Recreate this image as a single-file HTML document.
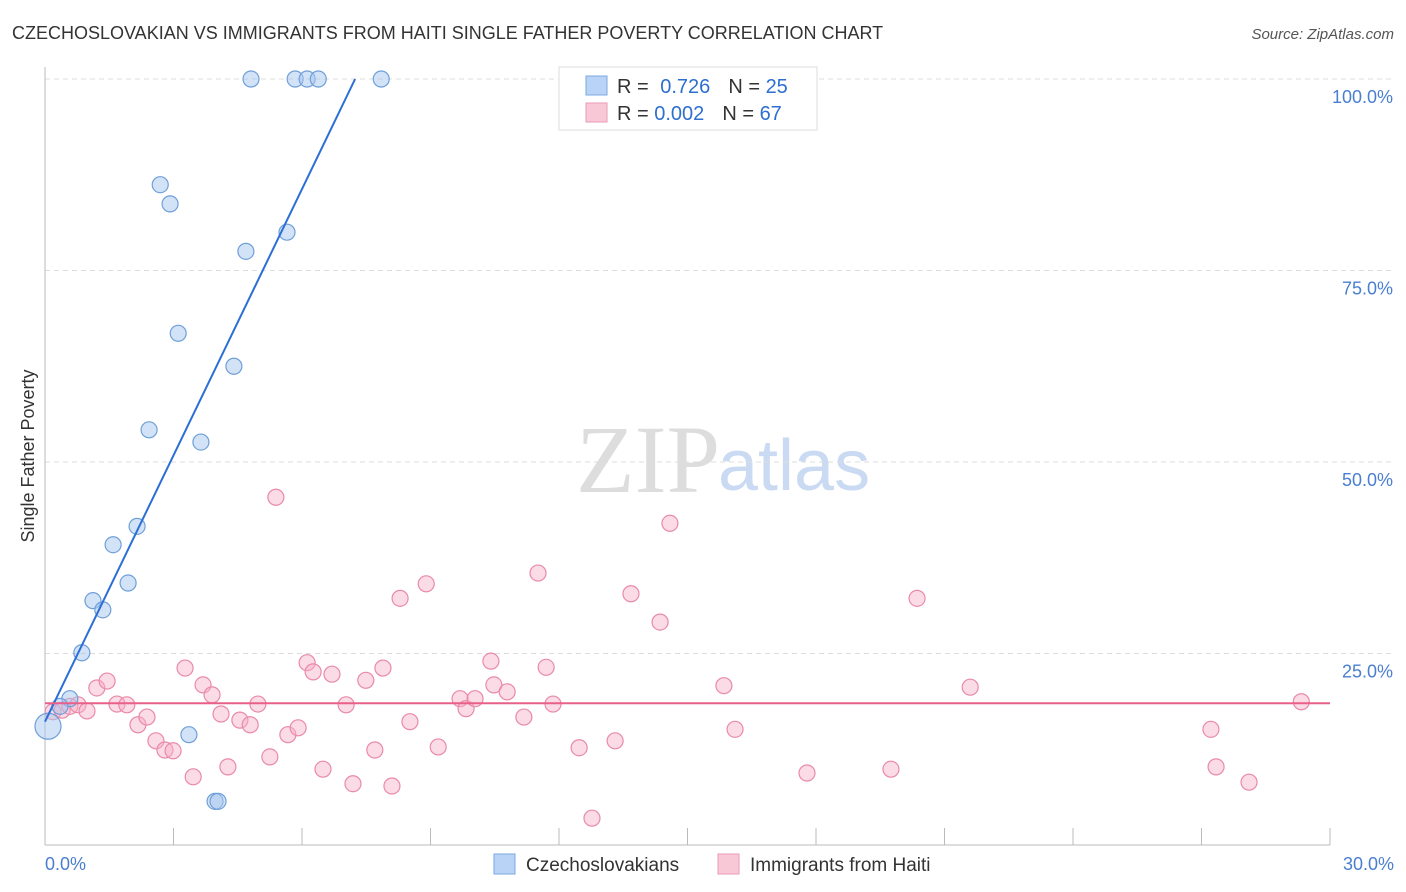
<!DOCTYPE html>
<html><head><meta charset="utf-8"><style>
body{margin:0;background:#fff;font-family:"Liberation Sans",sans-serif;}
svg{display:block}
</style></head><body>
<svg id="chart" width="1406" height="892" xmlns="http://www.w3.org/2000/svg">
<text x="12" y="39" font-size="18" fill="#333">CZECHOSLOVAKIAN VS IMMIGRANTS FROM HAITI SINGLE FATHER POVERTY CORRELATION CHART</text>
<text x="1394" y="39" font-size="15" fill="#555" font-style="italic" text-anchor="end">Source: ZipAtlas.com</text>
<text x="720" y="492" font-size="96" fill="#ddd" font-family="Liberation Serif,serif" text-anchor="end">ZIP</text>
<text x="718" y="490" font-size="72" fill="#c9daf2">atlas</text>
<text transform="translate(34,456) rotate(-90)" font-size="18" fill="#333" text-anchor="middle">Single Father Poverty</text>
<g id="grid"></g><g id="ticks"></g>
<line x1="45" y1="67" x2="45" y2="845" stroke="#bbb"/>
<line x1="45" y1="845" x2="1330" y2="845" stroke="#bbb"/>
<text x="45" y="870" font-size="18" fill="#4a7fd0">0.0%</text>
<text x="1394" y="870" font-size="18" fill="#4a7fd0" text-anchor="end">30.0%</text>
<g id="pink"></g><g id="blue"></g><g id="lines"></g>
<g>
<rect x="559" y="67" width="258" height="63" fill="#fff" stroke="#ddd"/>
<rect x="586" y="76" width="21" height="19" fill="#b8d3f5" stroke="#7aa8e0"/>
<rect x="586" y="103" width="21" height="19" fill="#f9c8d7" stroke="#eb9ab5"/>
<text x="617" y="93" font-size="20" fill="#333">R = <tspan fill="#2d6fd0" dx="6">0.726</tspan><tspan fill="#333" dx="18">N = </tspan><tspan fill="#2d6fd0">25</tspan></text>
<text x="617" y="120" font-size="20" fill="#333">R = <tspan fill="#2d6fd0">0.002</tspan><tspan fill="#333" dx="18">N = </tspan><tspan fill="#2d6fd0">67</tspan></text>
</g>
<g>
<rect x="494" y="854" width="21" height="20" fill="#b8d3f5" stroke="#7aa8e0"/>
<text x="526" y="871" font-size="19" fill="#333">Czechoslovakians</text>
<rect x="718" y="854" width="21" height="20" fill="#f9c8d7" stroke="#eb9ab5"/>
<text x="750" y="871" font-size="19" fill="#333">Immigrants from Haiti</text>
</g>
</svg>
<script>
const yTicks=[25,50,75,100];
const yTickLabels=["25.0%","50.0%","75.0%","100.0%"];
const xTicks=[0,3,6,9,12,15,18,21,24,27,30];
const blueX=[4.81,5.84,6.12,6.38,7.85,2.69,2.92,4.69,5.65,3.11,4.41,2.43,3.64,2.15,1.59,1.94,1.12,1.35,0.86,0.58,0.35,3.36,3.97,4.04,0.07];
const blueY=[100,100,100,100,100,86.2,83.7,77.5,80.0,66.8,62.5,54.2,52.6,41.6,39.2,34.2,31.9,30.7,25.1,19.1,18.1,14.4,5.7,5.7,15.5];
const pinkX=[0.19,0.40,0.58,0.77,0.98,1.21,1.45,1.68,1.91,2.17,2.38,2.59,2.80,2.99,3.27,3.46,3.69,3.90,4.11,4.27,4.55,4.79,4.97,5.25,5.39,5.67,5.91,6.12,6.26,6.49,6.70,7.03,7.19,7.49,7.70,7.89,8.10,8.29,8.52,8.90,9.18,9.69,9.83,10.04,10.41,10.48,10.79,11.18,11.51,11.70,11.86,12.47,12.77,13.31,13.68,14.36,14.59,15.85,16.11,17.79,19.75,20.36,21.60,27.22,27.34,28.11,29.33];
const pinkY=[17.4,17.6,18.1,18.3,17.5,20.5,21.4,18.4,18.3,15.7,16.7,13.6,12.4,12.3,23.1,8.9,20.9,19.6,17.1,10.2,16.3,15.7,18.4,11.5,45.4,14.4,15.3,23.8,22.6,9.9,22.3,18.3,8.0,21.5,12.4,23.1,7.7,32.2,16.1,34.1,12.8,19.1,17.8,19.1,24.0,20.9,20.0,16.7,35.5,23.2,18.4,12.7,3.5,13.6,32.8,29.1,42.0,20.8,15.1,9.4,9.9,32.2,20.6,15.1,10.2,8.2,18.7];
const blueLine=[0,16.1,7.24,100];
const pinkLine=[0,18.5,30,18.5];
const NS="http://www.w3.org/2000/svg";
const xs=v=>45+v*(1285/30);
const ys=v=>845-v*(766/100);
function mk(parent,tag,attrs){const e=document.createElementNS(NS,tag);for(const k in attrs)e.setAttribute(k,attrs[k]);document.getElementById(parent).appendChild(e);return e;}
yTicks.forEach((t,i)=>{
 const l=mk('grid','line',{x1:45,x2:1394,y1:ys(t),y2:ys(t),stroke:'#ddd','stroke-dasharray':'5,4'});
 
 
 const tx=mk('grid','text',{x:1393,y:ys(t)+24,'font-size':18,fill:'#4a7fd0','text-anchor':'end'});
 tx.textContent=yTickLabels[i];
 
 
});
xTicks.forEach(t=>{
 const l=mk('ticks','line',{x1:xs(t),x2:xs(t),y1:828,y2:845,stroke:'#bbb'});
 
 
});
pinkX.forEach((x,i)=>{
 const c=mk('pink','circle',{cx:xs(x),cy:ys(pinkY[i]),r:8,fill:'rgba(246,176,200,0.45)',stroke:'#e98aa8','stroke-width':1.2});
 
 
});
blueX.forEach((x,i)=>{
 const c=mk('blue','circle',{cx:xs(x),cy:ys(blueY[i]),r:i===blueX.length-1?13:8,fill:'rgba(168,200,240,0.5)',stroke:'#6f9fd8','stroke-width':1.2});
 
 
});
const bl=mk('lines','line',{x1:xs(blueLine[0]),y1:ys(blueLine[1]),x2:xs(blueLine[2]),y2:ys(blueLine[3]),stroke:'#2b6fd6','stroke-width':2});


const pl=mk('lines','line',{x1:xs(pinkLine[0]),y1:ys(pinkLine[1]),x2:xs(pinkLine[2]),y2:ys(pinkLine[3]),stroke:'#e8608a','stroke-width':2});


</script>
</body></html>
